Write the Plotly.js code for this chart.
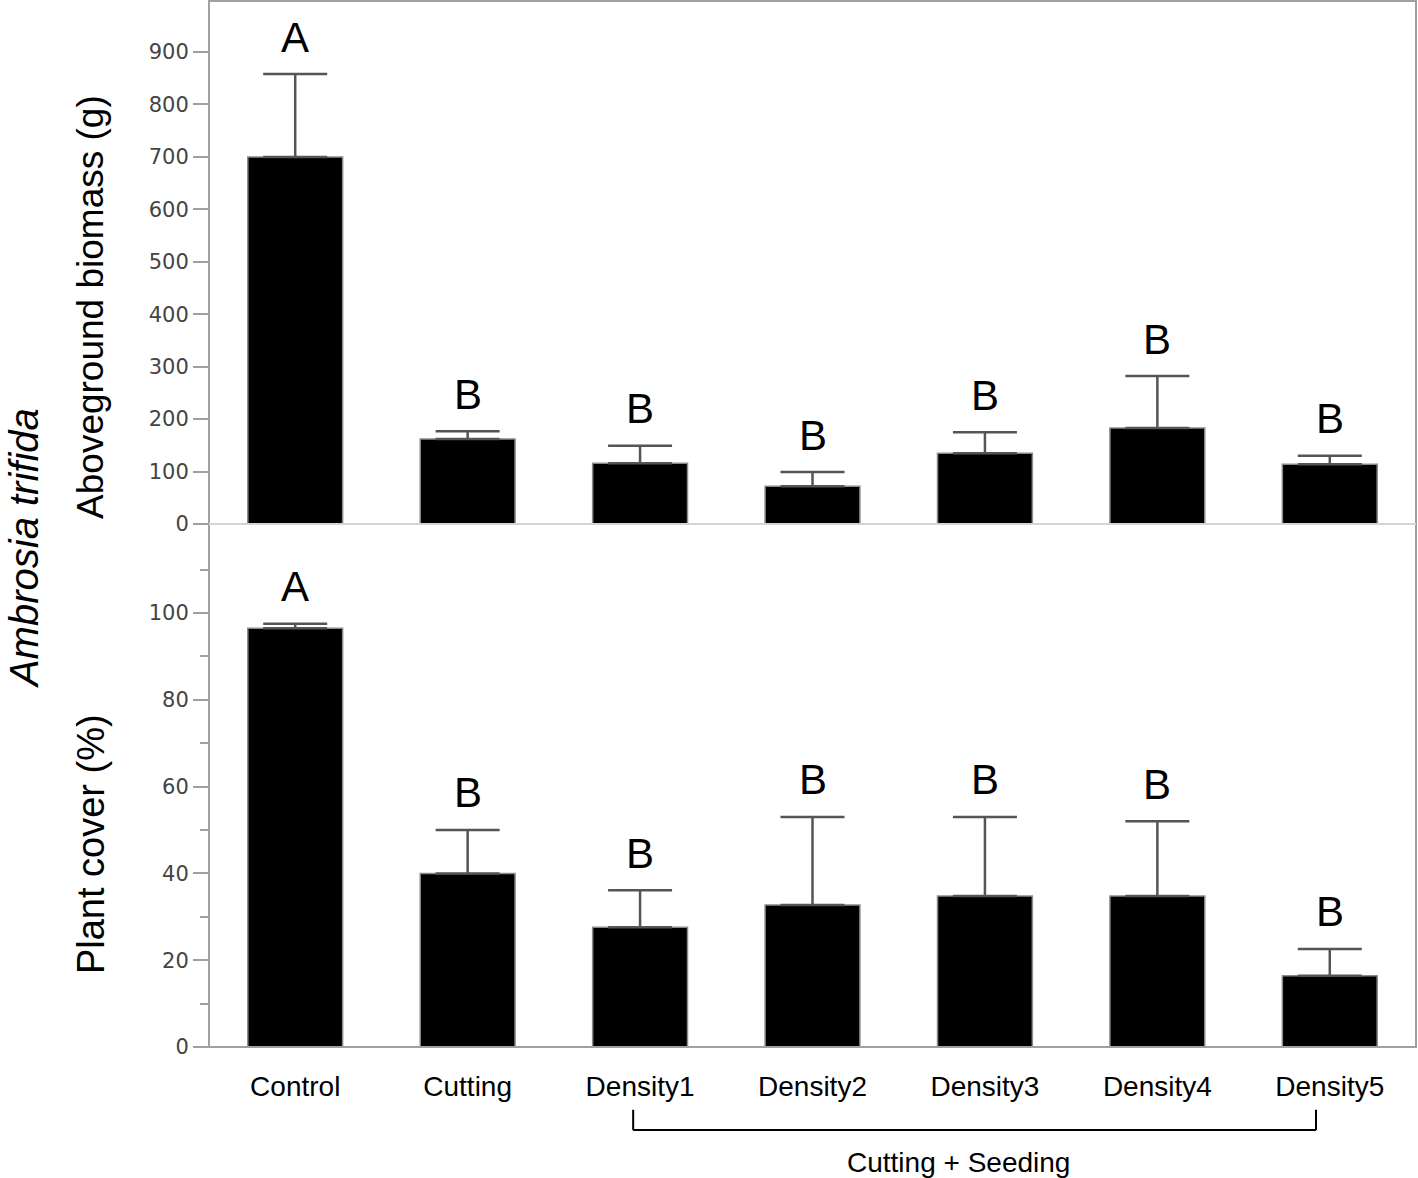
<!DOCTYPE html>
<html>
<head>
<meta charset="utf-8">
<script src="https://cdn.plot.ly/plotly-3.0.1.min.js"></script>
<style>html,body{margin:0;padding:0;background:#fff;}#chart{width:1418px;height:1178px;}</style>
</head>
<body>
<div id="chart"></div>
<script>
// ---- data ----
const categories = ["Control", "Cutting", "Density1", "Density2", "Density3", "Density4", "Density5"];
const biomassMean = [700, 162, 116, 72, 135, 183, 114];
const biomassErr  = [158, 15, 33, 27, 40, 99, 16];
const biomassLetters = ["A", "B", "B", "B", "B", "B", "B"];
const coverMean = [96.5, 40, 27.6, 32.7, 34.8, 34.8, 16.4];
const coverErr  = [1, 10, 8.5, 20.3, 18.2, 17.2, 6.2];
const coverLetters = ["A", "B", "B", "B", "B", "B", "B"];
const biomassTicks = [0, 100, 200, 300, 400, 500, 600, 700, 800, 900];
const coverTicks = [0, 20, 40, 60, 80, 100];
const coverMinorTicks = [10, 30, 50, 70, 90, 110];
const groupLabel = "Cutting + Seeding";
const speciesLabel = "Ambrosia trifida";
const biomassTitle = "Aboveground biomass (g)";
const coverTitle = "Plant cover (%)";

const FONT = "Liberation Sans, Arial, sans-serif";

function barTrace(y, err, xa, ya) {
  return {
    type: "bar", x: categories, y: y, xaxis: xa, yaxis: ya,
    width: 0.55,
    marker: {color: "#000000", line: {color: "#8a8a8a", width: 1.5}},
    error_y: {type: "data", array: err, arrayminus: err.map(() => 0), symmetric: false, visible: true,
      color: "#555555", thickness: 2.5, width: 32},
    showlegend: false, hoverinfo: "skip"
  };
}

const traces = [
  barTrace(biomassMean, biomassErr, "x2", "y2"),
  barTrace(coverMean, coverErr, "x", "y")
];

const annotations = [];
categories.forEach((c, i) => {
  annotations.push({x: c, y: biomassMean[i] + biomassErr[i], xref: "x2", yref: "y2",
    text: biomassLetters[i], showarrow: false, yanchor: "middle", yshift: 37,
    font: {family: FONT, size: 42, color: "#000"}});
  annotations.push({x: c, y: coverMean[i] + coverErr[i], xref: "x", yref: "y",
    text: coverLetters[i], showarrow: false, yanchor: "middle", yshift: 37,
    font: {family: FONT, size: 42, color: "#000"}});
});
annotations.push({xref: "paper", yref: "paper", x: 0, y: 0.7075, xshift: -118, textangle: -90,
  text: biomassTitle, showarrow: false, xanchor: "center", yanchor: "middle",
  font: {family: FONT, size: 37, color: "#000"}});
annotations.push({xref: "paper", yref: "paper", x: 0, y: 0.194, xshift: -118, textangle: -90,
  text: coverTitle, showarrow: false, xanchor: "center", yanchor: "middle",
  font: {family: FONT, size: 38, color: "#000"}});
annotations.push({xref: "paper", yref: "paper", x: 0, y: 0.477, xshift: -185, textangle: -90,
  text: "<i>" + speciesLabel + "</i>", showarrow: false, xanchor: "center", yanchor: "middle",
  font: {family: FONT, size: 40, color: "#000"}});
annotations.push({xref: "paper", yref: "paper", x: 0.621, y: 0, yshift: -115,
  text: groupLabel, showarrow: false, xanchor: "center", yanchor: "middle",
  font: {family: FONT, size: 28, color: "#000"}});

const bl = {color: "#000", width: 2};
const shapes = [
  {type: "rect", xref: "paper", yref: "paper", x0: 0, x1: 1, y0: 0, y1: 1, line: {color: "#a0a0a0", width: 2}},
  {type: "line", xref: "paper", yref: "paper", x0: 0, x1: 1, y0: 0.5, y1: 0.5, line: {color: "#d4d4d4", width: 2}},
  {type: "line", xref: "x", yref: "paper", x0: 1.96, x1: 1.96, y0: -0.060, y1: -0.0794, line: bl},
  {type: "line", xref: "x", yref: "paper", x0: 1.96, x1: 5.92, y0: -0.0794, y1: -0.0794, line: bl},
  {type: "line", xref: "x", yref: "paper", x0: 5.92, x1: 5.92, y0: -0.060, y1: -0.0794, line: bl}
];

const tickFont = {family: "DejaVu Sans, sans-serif", size: 21, color: "#444"};
const layout = {
  width: 1418, height: 1178,
  margin: {l: 209, r: 2, t: 1, b: 131, pad: 0},
  paper_bgcolor: "#fff", plot_bgcolor: "#fff",
  bargap: 0.45,
  xaxis: {domain: [0, 1], anchor: "y", type: "category", categoryorder: "array", categoryarray: categories,
    range: [-0.5, 6.5], showline: false, showgrid: false, zeroline: false, ticks: "",
    ticklabelstandoff: 20, tickfont: {family: FONT, size: 28, color: "#000"}},
  xaxis2: {domain: [0, 1], anchor: "y2", type: "category", categoryorder: "array", categoryarray: categories,
    range: [-0.5, 6.5], showline: false, showgrid: false, zeroline: false, ticks: "", showticklabels: false},
  yaxis: {domain: [0, 0.5], anchor: "x", range: [0, 120.5], tickmode: "array", tickvals: coverTicks,
    showgrid: false, zeroline: false, showline: false, ticks: "outside", ticklen: 15, tickwidth: 2, tickcolor: "#a0a0a0",
    tickfont: tickFont,
    minor: {tickmode: "array", tickvals: coverMinorTicks, ticks: "outside", ticklen: 8, tickwidth: 2, tickcolor: "#a0a0a0", showgrid: false}},
  yaxis2: {domain: [0.5, 1], anchor: "x2", range: [0, 997.3], tickmode: "array", tickvals: biomassTicks,
    showgrid: false, zeroline: false, showline: false, ticks: "outside", ticklen: 15, tickwidth: 2, tickcolor: "#a0a0a0",
    tickfont: tickFont},
  annotations: annotations,
  shapes: shapes
};

Plotly.newPlot("chart", traces, layout, {staticPlot: true, displayModeBar: false});
</script>
</body>
</html>
